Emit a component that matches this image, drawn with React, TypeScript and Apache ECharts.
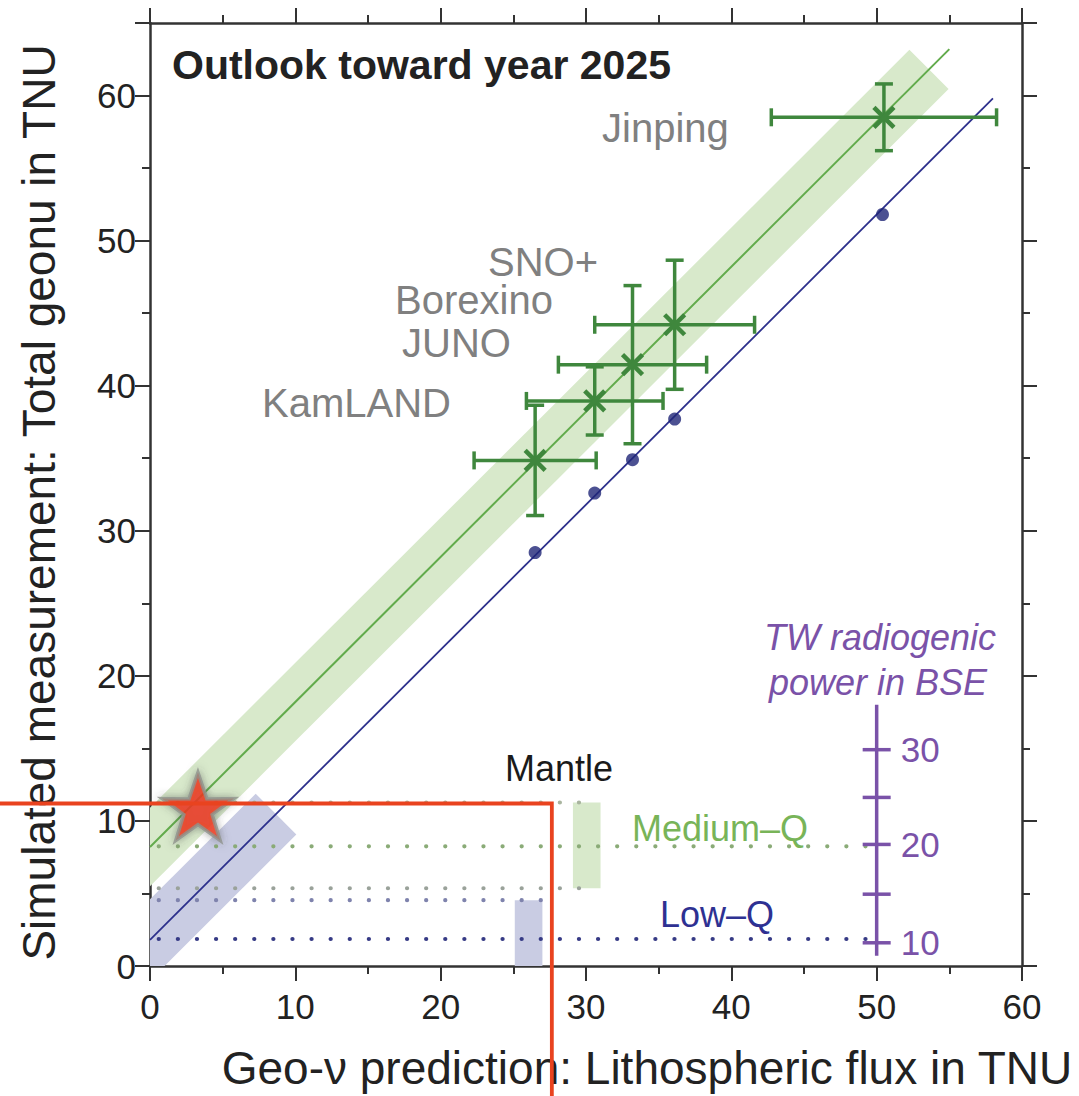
import { useEffect, useRef } from "react";
import * as echarts from "echarts";

const FONT = "'Liberation Sans', Arial, Helvetica, sans-serif";
const W = 1079;
const H = 1096;

// Simulated geoneutrino measurements (TNU) with 1-sigma uncertainties
const expPrediction = [26.5, 30.6, 33.2, 36.1, 50.5];
const expPredictionErr = [4.2, 4.7, 5.1, 5.5, 7.75];
const expMeasured = [34.85, 38.95, 41.45, 44.2, 58.5];
const expMeasuredErr = [3.8, 2.35, 5.45, 4.45, 2.3];

// Low-Q reference values at the same sites
const lowQPrediction = [26.5, 30.6, 33.2, 36.1, 50.4];
const lowQTotal = [28.5, 32.6, 34.9, 37.7, 51.8];

// Trend lines, [x, y] end points
const mediumQLine = [[0, 8.2], [55, 63.2]];
const lowQLine = [[0, 1.8], [58, 59.8]];

// Uncertainty bands: centre start x, y, centre end x, y, vertical half-width (TNU)
const mediumQBand = [-6, 2.2, 53.6, 61.8, 2.7];
const lowQBand = [-5, -3.2, 8.67, 10.47, 2.8];

// Mantle contributions: dotted reference levels and their x extents
const mantleRowY = [11.27, 8.25, 5.36, 4.54, 1.86];
const mantleRowEndX = [30.6, 49.6, 30.6, 26.9, 49.6];
// Mantle ranges [xMin, xMax, yMin, yMax]
const mantleMediumQ = [29.1, 31.0, 5.36, 11.27];
const mantleLowQ = [25.1, 27.0, 0, 4.54];

// Radiogenic power scale (TW) placed on the TNU axis
const powerAxisX = 50;
const powerAxisSpan = [0.7, 18.0];
const powerTickY = [1.6, 4.95, 8.38, 11.62, 14.91];
const powerTickLabels = ["10", "", "20", "", "30"];

// Highlighted site and its guide lines
const starPoint = [3.3, 11.2];
const guideCorner = [27.65, 11.2];

// Site names shown on the chart
const siteNames = ["Jinping", "SNO+", "Borexino", "JUNO", "KamLAND"];

const GREEN_BAR = "#3f873d";
const GREEN_LINE = "#62ab4c";
const GREEN_BAND = "#d8e9cb";
const BLUE_LINE = "#2d308c";
const BLUE_DOT = "#1f2677";
const BLUE_BAND = "#c9cce3";
const PURPLE = "#7a52a8";
const RED = "#e9431f";
const AXIS = "#333333";
const rowColors = ["#a9b59f", "#8aab77", "#9aa29a", "#7f83ad", "#363a85"];

function bandItem(params: any, api: any) {
  const x0 = api.value(0), y0 = api.value(1), x1 = api.value(2), y1 = api.value(3), hw = api.value(4);
  const p0 = api.coord([x0, y0]);
  const p1 = api.coord([x1, y1]);
  const pv = api.coord([x0, y0 + hw]);
  const dx = p1[0] - p0[0], dy = p1[1] - p0[1];
  const len = Math.hypot(dx, dy);
  const ux = dx / len, uy = dy / len;
  const w = Math.abs(pv[1] - p0[1]) * Math.abs(ux);
  const nx = -uy * w, ny = ux * w;
  return {
    type: "polygon",
    shape: {
      points: [
        [p0[0] + nx, p0[1] + ny],
        [p1[0] + nx, p1[1] + ny],
        [p1[0] - nx, p1[1] - ny],
        [p0[0] - nx, p0[1] - ny],
      ],
    },
    style: { fill: api.visual("color") },
  };
}

export default function App() {
  const ref = useRef<HTMLDivElement>(null);

  useEffect(() => {
    if (!ref.current) return;
    const chart = echarts.init(ref.current, undefined, { renderer: "svg", width: W, height: H });

    const axisLineStyle = { color: AXIS, width: 2.5 };
    const labelStyle = { fontSize: 35, color: "#222", fontFamily: FONT };
    const tickStyle = { show: true, inside: false, length: 15, lineStyle: { color: AXIS, width: 2 } };
    const minorStyle = { show: true, splitNumber: 2, length: 8, lineStyle: { color: AXIS, width: 2 } };

    const errorData = expPrediction.map((x, i) => [x, expMeasured[i], expPredictionErr[i], expMeasuredErr[i]]);
    const lowQData = lowQPrediction.map((x, i) => [x, lowQTotal[i]]);
    const rowData = mantleRowY.map((y, i) => [0.6, y, mantleRowEndX[i], i]);
    const tickData = powerTickY.map((y, i) => [powerAxisX, y, i]);

    chart.setOption({
      animation: false,
      grid: { left: 150, right: 57, top: 23, bottom: 126 },
      xAxis: [
        {
          type: "value",
          min: 0,
          max: 60,
          interval: 10,
          position: "bottom",
          axisLine: { show: true, onZero: false, lineStyle: axisLineStyle },
          axisTick: tickStyle,
          minorTick: minorStyle,
          splitLine: { show: false },
          axisLabel: { ...labelStyle, margin: 23 },
          name: "Geo-ν prediction: Lithospheric flux in TNU",
          nameLocation: "middle",
          nameGap: 79,
          nameTextStyle: { fontSize: 46, color: "#222", fontFamily: FONT, padding: [0, 0, 0, 122] },
        },
        {
          type: "value",
          min: 0,
          max: 60,
          interval: 10,
          position: "top",
          axisLine: { show: true, onZero: false, lineStyle: axisLineStyle },
          axisTick: tickStyle,
          minorTick: minorStyle,
          splitLine: { show: false },
          axisLabel: { show: false },
        },
      ],
      yAxis: [
        {
          type: "value",
          min: 0,
          max: 65,
          interval: 10,
          position: "left",
          axisLine: { show: true, onZero: false, lineStyle: axisLineStyle },
          axisTick: tickStyle,
          minorTick: minorStyle,
          splitLine: { show: false },
          axisLabel: { ...labelStyle, margin: 14, showMaxLabel: false, formatter: (v: number) => (v % 10 === 0 ? String(v) : "") },
          name: "Simulated measurement: Total geonu in TNU",
          nameLocation: "middle",
          nameGap: 88,
          nameTextStyle: { fontSize: 46, color: "#222", fontFamily: FONT, padding: [0, 16, 0, 0] },
        },
        {
          type: "value",
          min: 0,
          max: 65,
          interval: 10,
          position: "right",
          axisLine: { show: true, onZero: false, lineStyle: axisLineStyle },
          axisTick: tickStyle,
          minorTick: minorStyle,
          splitLine: { show: false },
          axisLabel: { show: false },
        },
      ],
      series: [
        {
          type: "custom",
          name: "bands",
          clip: true,
          z: 1,
          renderItem: bandItem,
          data: [
            { value: mediumQBand, itemStyle: { color: GREEN_BAND } },
            { value: lowQBand, itemStyle: { color: BLUE_BAND } },
          ],
        },
        {
          type: "custom",
          name: "mantle ranges",
          clip: true,
          z: 1,
          renderItem: (params: any, api: any) => {
            const a = api.coord([api.value(0), api.value(3)]);
            const b = api.coord([api.value(1), api.value(2)]);
            return {
              type: "rect",
              shape: { x: a[0], y: a[1], width: b[0] - a[0], height: b[1] - a[1] },
              style: { fill: api.visual("color") },
            };
          },
          data: [
            { value: mantleMediumQ, itemStyle: { color: GREEN_BAND } },
            { value: mantleLowQ, itemStyle: { color: BLUE_BAND } },
          ],
        },
        {
          type: "custom",
          name: "mantle levels",
          clip: true,
          z: 2,
          renderItem: (params: any, api: any) => {
            const a = api.coord([api.value(0), api.value(1)]);
            const b = api.coord([api.value(2), api.value(1)]);
            return {
              type: "line",
              shape: { x1: a[0], y1: a[1], x2: b[0], y2: b[1] },
              style: { stroke: rowColors[api.value(3)], lineWidth: 4.2, lineDash: [0.1, 19], lineCap: "round" },
            };
          },
          data: rowData,
        },
        {
          type: "line",
          name: "Medium-Q",
          z: 3,
          symbol: "none",
          lineStyle: { color: GREEN_LINE, width: 2 },
          data: mediumQLine,
        },
        {
          type: "line",
          name: "Low-Q",
          z: 3,
          symbol: "none",
          lineStyle: { color: BLUE_LINE, width: 1.8 },
          data: lowQLine,
        },
        {
          type: "scatter",
          name: "Low-Q sites",
          z: 4,
          symbol: "circle",
          symbolSize: 13,
          itemStyle: { color: BLUE_DOT },
          data: lowQData,
        },
        {
          type: "custom",
          name: "simulated",
          z: 5,
          renderItem: (params: any, api: any) => {
            const x = api.value(0), y = api.value(1), ex = api.value(2), ey = api.value(3);
            const c = api.coord([x, y]);
            const l = api.coord([x - ex, y]);
            const r = api.coord([x + ex, y]);
            const t = api.coord([x, y + ey]);
            const b = api.coord([x, y - ey]);
            const cap = 9;
            const m = 10;
            const st = { stroke: GREEN_BAR, lineWidth: 3.5, fill: null };
            const ln = (x1: number, y1: number, x2: number, y2: number, s: any = st) => ({
              type: "line",
              shape: { x1, y1, x2, y2 },
              style: s,
            });
            const mk = { stroke: GREEN_BAR, lineWidth: 4.5, fill: null };
            return {
              type: "group",
              children: [
                ln(l[0], l[1], r[0], r[1]),
                ln(l[0], l[1] - cap, l[0], l[1] + cap),
                ln(r[0], r[1] - cap, r[0], r[1] + cap),
                ln(t[0], t[1], b[0], b[1]),
                ln(t[0] - cap, t[1], t[0] + cap, t[1]),
                ln(b[0] - cap, b[1], b[0] + cap, b[1]),
                ln(c[0] - m, c[1] - m, c[0] + m, c[1] + m, mk),
                ln(c[0] - m, c[1] + m, c[0] + m, c[1] - m, mk),
              ],
            };
          },
          data: errorData,
        },
        {
          type: "line",
          name: "power axis",
          z: 5,
          symbol: "none",
          lineStyle: { color: PURPLE, width: 3.5 },
          data: [
            [powerAxisX, powerAxisSpan[0]],
            [powerAxisX, powerAxisSpan[1]],
          ],
        },
        {
          type: "custom",
          name: "power ticks",
          z: 5,
          renderItem: (params: any, api: any) => {
            const p = api.coord([api.value(0), api.value(1)]);
            const label = powerTickLabels[api.value(2)];
            const children: any[] = [
              {
                type: "line",
                shape: { x1: p[0] - 14, y1: p[1], x2: p[0] + 14, y2: p[1] },
                style: { stroke: PURPLE, lineWidth: 3.5 },
              },
            ];
            if (label) {
              children.push({
                type: "text",
                x: p[0] + 24,
                y: p[1],
                style: {
                  text: label,
                  fill: PURPLE,
                  fontSize: 35,
                  fontFamily: FONT,
                  align: "left",
                  verticalAlign: "middle",
                },
              });
            }
            return { type: "group", children };
          },
          data: tickData,
        },
        {
          type: "scatter",
          name: "site",
          z: 10,
          symbol:
            "path://M50,0 L61.8,35.1 L97.6,34.5 L68.8,55.9 L79.4,90.5 L50,69.5 L20.6,90.5 L31.2,55.9 L2.4,34.5 L38.2,35.1 Z",
          symbolSize: [72, 68],
          symbolOffset: [0, 3],
          itemStyle: {
            color: "#f2381c",
            borderColor: "#8f928c",
            borderWidth: 3.5,
            shadowBlur: 9,
            shadowColor: "rgba(60,60,60,0.55)",
          },
          data: [starPoint],
        },
      ],
    });

    const corner = chart.convertToPixel({ gridIndex: 0 }, guideCorner) as number[];

    const text = (
      t: string,
      x: number,
      y: number,
      size: number,
      fill: string,
      opts: { weight?: string; italic?: boolean; align?: string } = {}
    ) => ({
      type: "text",
      x,
      y,
      z: 40,
      style: {
        text: t,
        fill,
        fontSize: size,
        fontFamily: FONT,
        fontWeight: opts.weight || "normal",
        fontStyle: opts.italic ? "italic" : "normal",
        align: opts.align || "left",
        verticalAlign: "middle",
        textAlign: opts.align || "left",
        textVerticalAlign: "middle",
      },
    });

    const GRAY = "#808080";
    chart.setOption({
      graphic: [
        text("Outlook toward year 2025", 172, 65, 41, "#222", { weight: "bold" }),
        text(siteNames[0], 602, 128, 40, GRAY),
        text(siteNames[1], 488, 262, 40, GRAY),
        text(siteNames[2], 395, 300, 40, GRAY),
        text(siteNames[3], 402, 343, 40, GRAY),
        text(siteNames[4], 262, 403, 40, GRAY),
        text("Mantle", 505, 768, 36, "#1a1a1a"),
        text("Medium–Q", 632, 828, 36, "#78b458"),
        text("Low–Q", 660, 914, 36, "#2e3192"),
        text("TW radiogenic", 880, 637, 36, PURPLE, { italic: true, align: "center" }),
        text("power in BSE", 878, 682, 36, PURPLE, { italic: true, align: "center" }),
        {
          type: "polyline",
          z: 50,
          shape: {
            points: [
              [0, corner[1]],
              [corner[0], corner[1]],
              [corner[0], H],
            ],
          },
          style: { stroke: RED, lineWidth: 3.8, fill: null },
        },
      ],
    });

    return () => chart.dispose();
  }, []);

  return (
    <div
      ref={ref}
      style={{ position: "absolute", left: 0, top: 0, width: W, height: H, background: "#fff" }}
    />
  );
}
